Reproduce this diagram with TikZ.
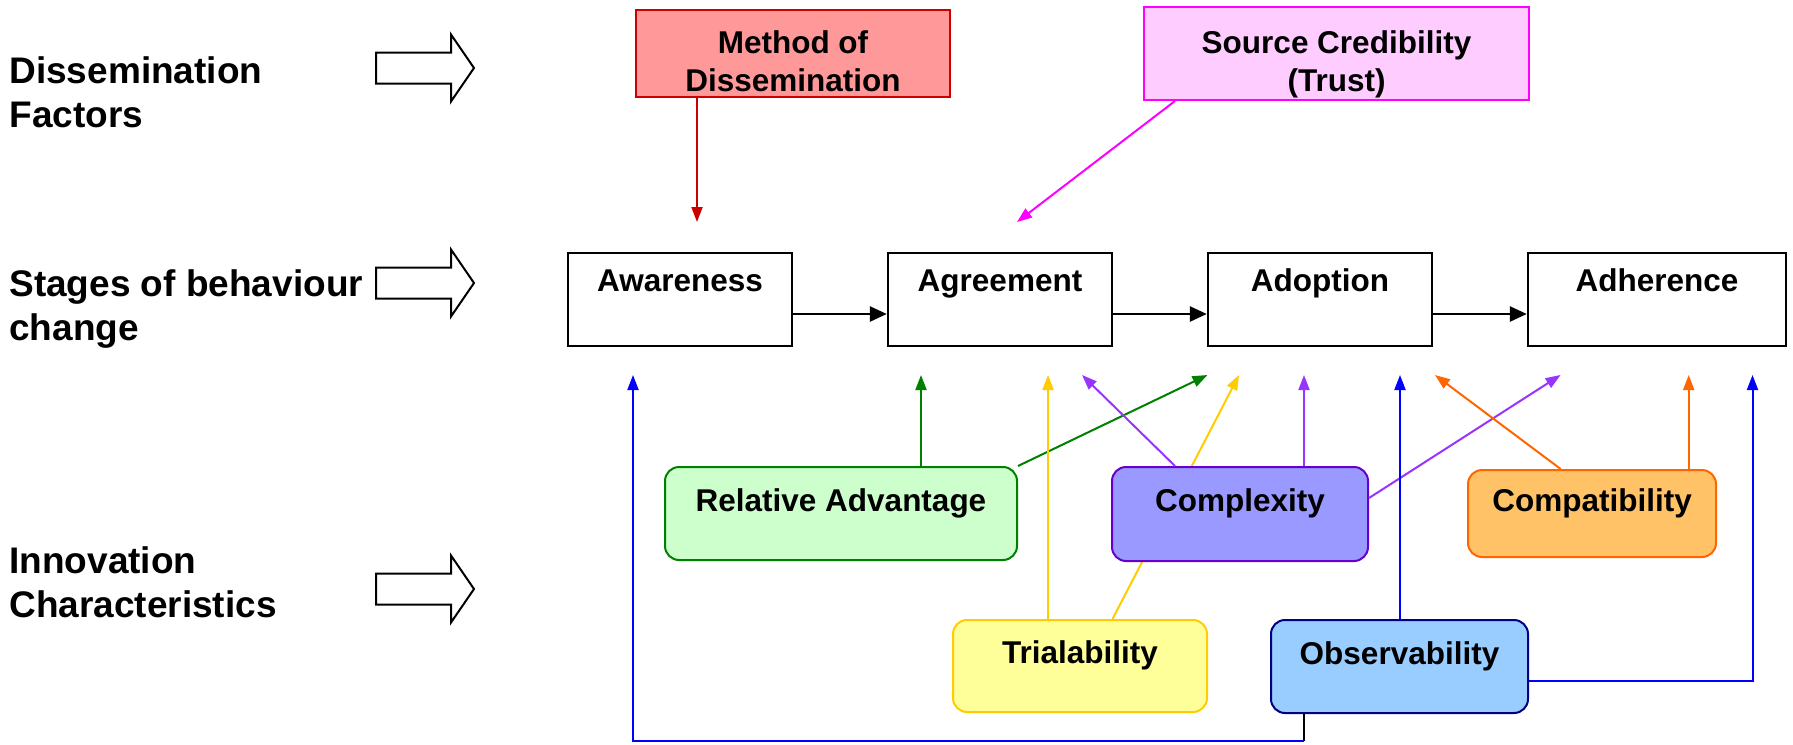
\documentclass[tikz,border=0pt]{standalone}
\usepackage{fontspec}
\setmainfont{Liberation Sans}
\usetikzlibrary{arrows.meta,calc,fit}
\pgfdeclarelayer{bg}
\pgfsetlayers{bg,main}
\definecolor{mdfill}{HTML}{FF9999}
\definecolor{mddraw}{HTML}{CC0000}
\definecolor{scfill}{HTML}{FFCCFF}
\definecolor{scdraw}{HTML}{FF00FF}
\definecolor{rafill}{HTML}{CCFFCC}
\definecolor{radraw}{HTML}{008000}
\definecolor{cxfill}{HTML}{9999FF}
\definecolor{cxdraw}{HTML}{6600CC}
\definecolor{cxarr}{HTML}{9933FF}
\definecolor{cofill}{HTML}{FFC266}
\definecolor{codraw}{HTML}{FF6600}
\definecolor{trfill}{HTML}{FFFF99}
\definecolor{trdraw}{HTML}{FFCC00}
\definecolor{obfill}{HTML}{99CCFF}
\definecolor{obdraw}{HTML}{000080}
\definecolor{obarr}{HTML}{0000FF}
\begin{document}
\begin{tikzpicture}[x=0.5pt,y=-0.5pt,
  lbl/.style={font=\fontsize{18.5}{22}\selectfont\bfseries, inner sep=0, anchor=base west},
  btxt/.style={font=\fontsize{15.75}{19}\selectfont\bfseries, inner sep=0, anchor=base},
  stagebox/.style={draw=black, line width=1.2pt, fill=white, inner sep=0},
  sqbox/.style={line width=1pt, inner sep=0},
  cbox/.style={line width=1pt, rounded corners=7pt, inner sep=0},
  conn/.style={line width=1pt, -{Triangle[length=7.5pt,width=5.5pt]}},
  sarr/.style={line width=1.3pt, -{Triangle[length=8.5pt,width=7.5pt]}},
  blkarrow/.pic={\draw[line width=1pt, fill=white] (0,-15.5) -- (75,-15.5) -- (75,-33.5) -- (98,0) -- (75,33.5) -- (75,15.5) -- (0,15.5) -- cycle;}
]
\useasboundingbox (0,0) rectangle (1793,744);

% left labels
\node[lbl] (l1) at (9,83) {\begin{tabular}[t]{@{}l@{}}Dissemination\\Factors\end{tabular}};
\node[lbl] (l2) at (9,296) {\begin{tabular}[t]{@{}l@{}}Stages of behaviour\\change\end{tabular}};
\node[lbl] (l3) at (9,573) {\begin{tabular}[t]{@{}l@{}}Innovation\\Characteristics\end{tabular}};
\pic at (376,68) {blkarrow};
\pic at (376,283) {blkarrow};
\pic at (376,589) {blkarrow};

% dissemination factors
\node[sqbox, draw=mddraw, fill=mdfill, fit={(636,10) (950,97)}] (md) {};
\node[btxt] (mdt) at ($(md.north)+(0,45)$) {\begin{tabular}[t]{@{}c@{}}Method of\\Dissemination\end{tabular}};
\node[sqbox, draw=scdraw, fill=scfill, fit={(1144,7) (1529,100)}] (sc) {};
\node[btxt] (sct) at ($(sc.north)+(0,48)$) {\begin{tabular}[t]{@{}c@{}}Source Credibility\\(Trust)\end{tabular}};

% stages
\node[stagebox, fit={(568,253) (792,346)}] (aw) {};
\node[stagebox, fit={(888,253) (1112,346)}] (ag) {};
\node[stagebox, fit={(1208,253) (1432,346)}] (ad) {};
\node[stagebox, fit={(1528,253) (1786,346)}] (ah) {};
\node[btxt] (awt) at ($(aw.north)+(0,40)$) {Awareness};
\node[btxt] (agt) at ($(ag.north)+(0,40)$) {Agreement};
\node[btxt] (adt) at ($(ad.north)+(0,40)$) {Adoption};
\node[btxt] (aht) at ($(ah.north)+(0,40)$) {Adherence};

% innovation characteristics
\node[cbox, draw=radraw, fill=rafill, fit={(665,467) (1017,560)}] (ra) {};
\node[cbox, draw=cxdraw, fill=cxfill, fit={(1112,467) (1368,561)}] (cx) {};
\node[cbox, draw=codraw, fill=cofill, fit={(1468,470) (1716,557)}] (co) {};
\node[cbox, draw=trdraw, fill=trfill, fit={(953,620) (1207,712)}] (tr) {};
\node[cbox, draw=obdraw, fill=obfill, fit={(1271,620) (1528,713)}] (ob) {};
\node[btxt] (rat) at ($(ra.north)+(0,45)$) {Relative Advantage};
\node[btxt] (cxt) at ($(cx.north)+(0,45)$) {Complexity};
\node[btxt] (cot) at ($(co.north)+(0,42)$) {Compatibility};
\node[btxt] (trt) at ($(tr.north)+(0,44)$) {Trialability};
\node[btxt] (obt) at ($(ob.north)+(0,45)$) {Observability};

% tip coordinates
\coordinate (tm) at (697,222);
\coordinate (ts) at (1017,222);
\coordinate (b1) at (633,375);
\coordinate (b2) at (921,375);
\coordinate (b3) at (1048,375);
\coordinate (b4) at (1082,375);
\coordinate (b5) at (1207.5,375);
\coordinate (b6) at (1239,375);
\coordinate (b7) at (1304,375);
\coordinate (b8) at (1400,375);
\coordinate (b9) at (1435,375);
\coordinate (b10) at (1560.6,375);
\coordinate (b11) at (1688.7,375);
\coordinate (b12) at (1752.5,375);
\coordinate (obot) at (1304,741);

% connectors
\draw[conn, mddraw] (tm |- md.south) -- (tm);
\draw[conn, scdraw] ($(sc.south west)+(32,0)$) -- (ts);
\draw[sarr] ($(aw.east)+(0,14.5)$) -- ($(ag.west)+(0,14.5)$);
\draw[sarr] ($(ag.east)+(0,14.5)$) -- ($(ad.west)+(0,14.5)$);
\draw[sarr] ($(ad.east)+(0,14.5)$) -- ($(ah.west)+(0,14.5)$);

\draw[conn, radraw] (b2 |- ra.north) -- (b2);
\draw[conn, radraw] (ra.north east) -- (b5);
\draw[conn, trdraw] (b3 |- tr.north) -- (b3);
\begin{pgfonlayer}{bg}
\draw[conn, trdraw] ($(tr.north west)+(160.5,0)$) -- (b6);
\end{pgfonlayer}
\draw[conn, cxarr] ($(cx.north west)+(64,0)$) -- (b4);
\draw[conn, cxarr] (b7 |- cx.north) -- (b7);
\draw[conn, cxarr] ($(cx.east)+(0,-16)$) -- (b10);
\draw[conn, codraw] (b10 |- co.north) -- (b9);
\draw[conn, codraw] (b11 |- co.north) -- (b11);
\draw[conn, obarr] (b8 |- ob.north) -- (b8);
\draw[conn, obarr] ($(ob.east)+(0,14.5)$) -| (b12);
\draw[line width=1pt, black] (obot |- ob.south) -- (obot);
\draw[conn, obarr] (obot) -| (b1);
\end{tikzpicture}
\end{document}
